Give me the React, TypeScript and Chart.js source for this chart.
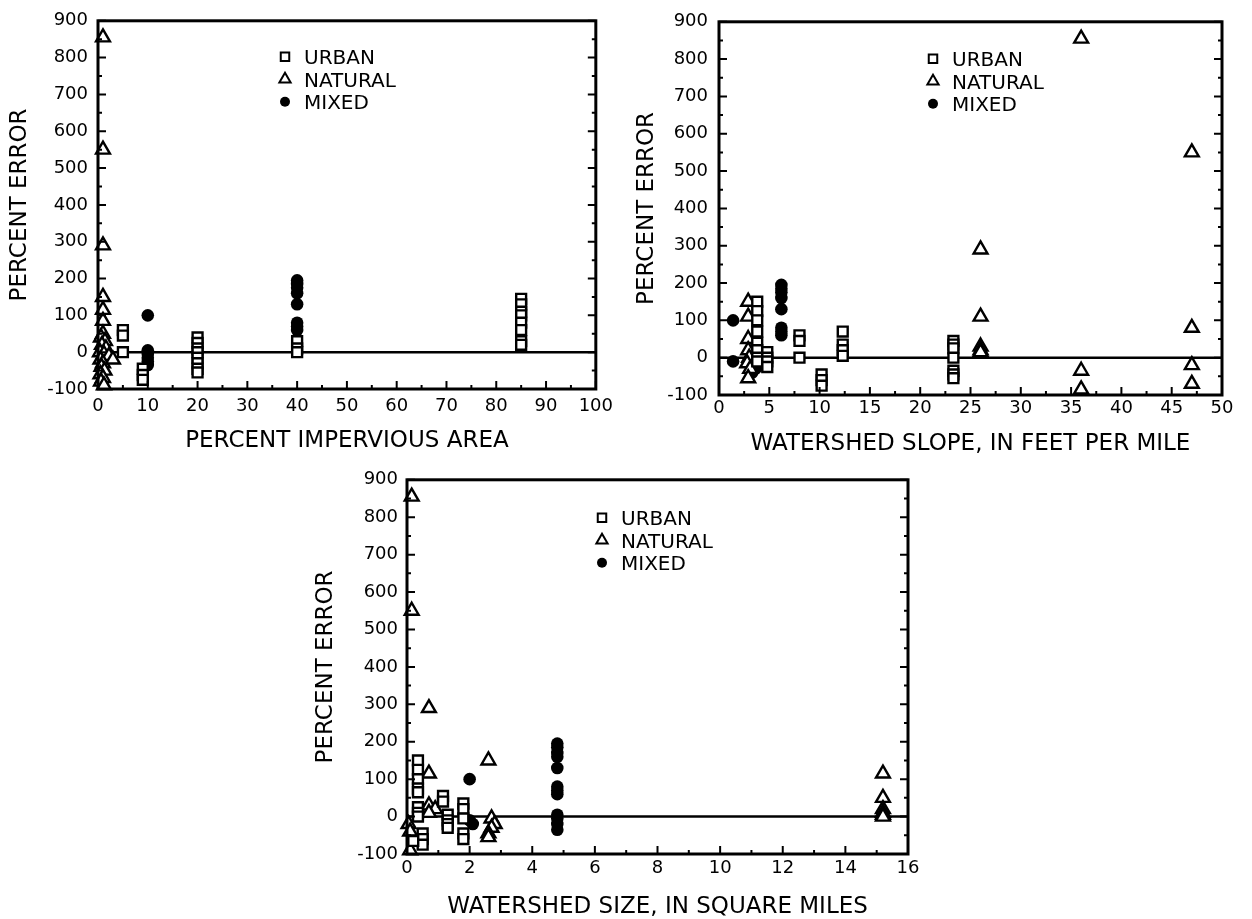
import React, { useEffect, useRef } from 'react';
import { Chart, registerables } from 'chart.js';

Chart.register(...registerables);

type Pt = [number, number];

const FONT = 'DejaVu Sans';
const SERIES_LABELS = ['URBAN', 'NATURAL', 'MIXED'];
const Y_TITLE = 'PERCENT ERROR';
const Y_RANGE = [-100, 900];

// Percent impervious area (x) vs percent error (y)
const imperviousUrban: Pt[] = [
  [5, 60], [5, 45], [5, 0],
  [9, -45], [9, -62], [9, -75],
  [20, 40], [20, 25], [20, 10], [20, 0], [20, -15], [20, -30], [20, -45], [20, -55],
  [40, 30], [40, 10], [40, 0],
  [85, 145], [85, 130], [85, 110], [85, 100], [85, 80], [85, 60], [85, 30], [85, 20],
];
const imperviousNatural: Pt[] = [
  [1, 855], [1, 550], [1, 290], [1, 150], [1, 115], [1, 85], [1, 50],
  [0.6, 40], [1.4, 30], [0.8, 20], [1.6, 10], [0.4, 0], [1.2, -5], [2.2, -10],
  [0.5, -20], [1, -30], [3, -20], [0.7, -40], [1.3, -50], [0.5, -60], [1, -70],
  [0.6, -80], [1.2, -90],
];
const imperviousMixed: Pt[] = [
  [10, 100], [10, 5], [10, -5], [10, -15], [10, -25], [10, -35],
  [40, 195], [40, 185], [40, 175], [40, 160], [40, 130], [40, 80], [40, 70], [40, 60],
];

// Watershed slope (x) vs percent error (y)
const slopeUrban: Pt[] = [
  [3.8, 150], [3.8, 125], [3.8, 100], [3.8, 70], [3.8, 40], [3.8, 20], [3.8, 0], [3.8, -10],
  [4.8, 15], [4.8, 0], [4.8, -10], [4.8, -25],
  [8, 60], [8, 45], [8, 0],
  [10.2, -45], [10.2, -60], [10.2, -75],
  [12.3, 70], [12.3, 35], [12.3, 20], [12.3, 5],
  [23.3, 45], [23.3, 35], [23.3, 25], [23.3, 0], [23.3, -35], [23.3, -45], [23.3, -55],
];
const slopeNatural: Pt[] = [
  [2.9, 150], [2.9, 110], [2.9, 50], [2.9, 20], [3, 0], [2.8, -15], [3.1, -30], [2.9, -55],
  [26, 290], [26, 110], [26, 30], [26, 20], [26, 15],
  [36, 855], [36, -35], [36, -85],
  [47, 550], [47, 80], [47, -20], [47, -70],
];
const slopeMixed: Pt[] = [
  [1.4, 100], [1.4, -10],
  [3.3, 0], [3.5, -10], [3.4, -20], [3.6, -30], [3.3, -40], [4, -15], [3.8, -25],
  [6.2, 195], [6.2, 185], [6.2, 175], [6.2, 160], [6.2, 130], [6.2, 80], [6.2, 70], [6.2, 60],
];

// Watershed size (x) vs percent error (y)
const sizeUrban: Pt[] = [
  [0.35, 150], [0.35, 125], [0.35, 100], [0.35, 75], [0.35, 65], [0.35, 25], [0.35, 10], [0.35, 0],
  [0.5, -45], [0.5, -60], [0.5, -75], [0.2, -65],
  [1.15, 55], [1.15, 40],
  [1.3, 5], [1.3, -10], [1.3, -20], [1.3, -30],
  [1.8, 35], [1.8, 20], [1.8, -5], [1.8, -45], [1.8, -60],
];
const sizeNatural: Pt[] = [
  [0.15, 855], [0.15, 550],
  [0.7, 290], [0.7, 115], [0.7, 30], [0.9, 20], [0.7, 10],
  [0.05, -20], [0.1, -40], [0.1, -90],
  [2.6, 150],
  [2.7, -5], [2.8, -20], [2.7, -30], [2.6, -45], [2.6, -55],
  [15.2, 115], [15.2, 50], [15.2, 20], [15.2, 10], [15.2, 5], [15.2, 0],
];
const sizeMixed: Pt[] = [
  [2, 100], [2, -10], [2.1, -20],
  [4.8, 195], [4.8, 185], [4.8, 170], [4.8, 160], [4.8, 130], [4.8, 80], [4.8, 70], [4.8, 60],
  [4.8, 5], [4.8, -5], [4.8, -20], [4.8, -35],
];

const toPoints = (arr: Pt[]) => arr.map(([x, y]) => ({ x, y }));

// Open/filled marker drawing shared by the inset legend
function drawMarker(ctx: CanvasRenderingContext2D, style: string, x: number, y: number, r: number) {
  ctx.beginPath();
  if (style === 'rect') {
    const s = r * Math.SQRT1_2;
    ctx.rect(x - s, y - s, 2 * s, 2 * s);
    ctx.fillStyle = '#fff';
    ctx.fill();
    ctx.stroke();
  } else if (style === 'triangle') {
    ctx.moveTo(x, y - r);
    ctx.lineTo(x + r * Math.sin(Math.PI / 3), y + r / 2);
    ctx.lineTo(x - r * Math.sin(Math.PI / 3), y + r / 2);
    ctx.closePath();
    ctx.fillStyle = '#fff';
    ctx.fill();
    ctx.stroke();
  } else {
    ctx.arc(x, y, r, 0, Math.PI * 2);
    ctx.fillStyle = '#000';
    ctx.fill();
  }
}

// Boxed frame with inward tick marks and a zero reference line
const framePlugin = {
  id: 'frame',
  beforeDatasetsDraw(chart: any) {
    const { ctx, chartArea: a, scales } = chart;
    const y0 = scales.y.getPixelForValue(0);
    ctx.save();
    ctx.strokeStyle = '#000';
    ctx.lineWidth = 2.5;
    ctx.beginPath();
    ctx.moveTo(a.left, y0);
    ctx.lineTo(a.right, y0);
    ctx.stroke();
    ctx.restore();
  },
  afterDraw(chart: any, _args: any, opts: any) {
    const { ctx, chartArea: a, scales } = chart;
    const { x, y } = scales;
    ctx.save();
    ctx.strokeStyle = '#000';
    ctx.lineWidth = 2;
    const yStep = opts.yStep;
    for (let v = y.min; v <= y.max + 1e-9; v += yStep / 2) {
      const major = Math.abs(v / yStep - Math.round(v / yStep)) < 1e-6;
      const len = major ? 8 : 4;
      const py = y.getPixelForValue(v);
      ctx.beginPath();
      ctx.moveTo(a.left, py);
      ctx.lineTo(a.left + len, py);
      ctx.moveTo(a.right, py);
      ctx.lineTo(a.right - len, py);
      ctx.stroke();
    }
    const xStep = opts.xStep;
    for (let v = x.min; v <= x.max + 1e-9; v += xStep / 2) {
      const major = Math.abs(v / xStep - Math.round(v / xStep)) < 1e-6;
      const len = major ? 8 : 4;
      const px = x.getPixelForValue(v);
      ctx.beginPath();
      ctx.moveTo(px, a.bottom);
      ctx.lineTo(px, a.bottom - len);
      ctx.stroke();
    }
    ctx.lineWidth = 3;
    ctx.strokeRect(a.left, a.top, a.right - a.left, a.bottom - a.top);
    ctx.restore();
  },
};

// Legend drawn inside the plotting area
const insetLegendPlugin = {
  id: 'insetLegend',
  afterDatasetsDraw(chart: any, _args: any, opts: any) {
    const { ctx, chartArea: a } = chart;
    const sizes: Record<string, number> = { rect: 6, triangle: 6.5, circle: 5 };
    ctx.save();
    ctx.strokeStyle = '#000';
    ctx.lineWidth = 2;
    chart.data.datasets.forEach((ds: any, i: number) => {
      const mx = a.left + opts.dx;
      const my = a.top + opts.dy + i * 22.5;
      drawMarker(ctx, ds.pointStyle, mx, my, sizes[ds.pointStyle]);
      ctx.fillStyle = '#000';
      ctx.font = `20px "${FONT}"`;
      ctx.textAlign = 'left';
      ctx.textBaseline = 'middle';
      ctx.fillText(ds.label, mx + 19, my + 2);
    });
    ctx.restore();
  },
};

interface PanelSpec {
  urban: Pt[];
  natural: Pt[];
  mixed: Pt[];
  xMax: number;
  xStep: number;
  xTitle: string;
  yWidth: number;
  xHeight: number;
  padTop: number;
  padRight: number;
  yTickPad: number;
  xTickPad: number;
  yTitlePad: number;
  xTitlePad: number;
  legendDx: number;
  legendDy: number;
}

function Panel({ spec, left, top, width, height }: { spec: PanelSpec; left: number; top: number; width: number; height: number }) {
  const ref = useRef<HTMLCanvasElement>(null);
  useEffect(() => {
    if (!ref.current) return;
    const tickFont = { family: FONT, size: 18 };
    const titleFont = { family: FONT, size: 23, lineHeight: 1 };
    const common = { borderColor: '#000', pointBorderWidth: 2.4, showLine: false, clip: false as any };
    const chart = new Chart(ref.current, {
      type: 'scatter',
      data: {
        datasets: [
          { ...common, label: SERIES_LABELS[0], data: toPoints(spec.urban), pointStyle: 'rect', pointRadius: 7, backgroundColor: '#fff' },
          { ...common, label: SERIES_LABELS[1], data: toPoints(spec.natural), pointStyle: 'triangle', pointRadius: 8, backgroundColor: '#fff' },
          { ...common, label: SERIES_LABELS[2], data: toPoints(spec.mixed), pointStyle: 'circle', pointRadius: 6.3, backgroundColor: '#000', pointBorderWidth: 0 },
        ] as any,
      },
      options: {
        animation: false,
        responsive: false,
        events: [],
        layout: { padding: { top: spec.padTop, right: spec.padRight, left: 0, bottom: 0 } },
        plugins: {
          legend: { display: false },
          tooltip: { enabled: false },
          frame: { xStep: spec.xStep, yStep: 100 },
          insetLegend: { dx: spec.legendDx, dy: spec.legendDy },
        } as any,
        scales: {
          x: {
            type: 'linear',
            min: 0,
            max: spec.xMax,
            grid: { display: false, drawTicks: false },
            border: { display: false },
            ticks: { stepSize: spec.xStep, color: '#000', font: tickFont, padding: spec.xTickPad, maxRotation: 0, autoSkip: false },
            title: { display: true, text: spec.xTitle, color: '#000', font: titleFont, padding: { top: 0, bottom: spec.xTitlePad } },
            afterFit: (s: any) => { s.height = spec.xHeight; },
          },
          y: {
            type: 'linear',
            min: Y_RANGE[0],
            max: Y_RANGE[1],
            grid: { display: false, drawTicks: false },
            border: { display: false },
            ticks: { stepSize: 100, color: '#000', font: tickFont, padding: spec.yTickPad, autoSkip: false },
            title: { display: true, text: Y_TITLE, color: '#000', font: titleFont, padding: { top: spec.yTitlePad, bottom: 0 } },
            afterFit: (s: any) => { s.width = spec.yWidth; },
          },
        },
      } as any,
      plugins: [framePlugin, insetLegendPlugin],
    });
    return () => chart.destroy();
  }, [spec]);
  return (
    <canvas
      ref={ref}
      width={width}
      height={height}
      style={{ position: 'absolute', left, top, width, height }}
    />
  );
}

const impervious: PanelSpec = {
  urban: imperviousUrban, natural: imperviousNatural, mixed: imperviousMixed,
  xMax: 100, xStep: 10, xTitle: 'PERCENT IMPERVIOUS AREA',
  yWidth: 98, xHeight: 71, padTop: 16, padRight: 22,
  yTickPad: 10, xTickPad: 7, yTitlePad: 9, xTitlePad: 7,
  legendDx: 187, legendDy: 36,
};
const slope: PanelSpec = {
  urban: slopeUrban, natural: slopeNatural, mixed: slopeMixed,
  xMax: 50, xStep: 5, xTitle: 'WATERSHED SLOPE, IN FEET PER MILE',
  yWidth: 89, xHeight: 65, padTop: 15, padRight: 30,
  yTickPad: 11, xTickPad: 3, yTitlePad: 6, xTitlePad: 4,
  legendDx: 214, legendDy: 37,
};
const size: PanelSpec = {
  urban: sizeUrban, natural: sizeNatural, mixed: sizeMixed,
  xMax: 16, xStep: 2, xTitle: 'WATERSHED SIZE, IN SQUARE MILES',
  yWidth: 107, xHeight: 65, padTop: 17, padRight: 32,
  yTickPad: 9, xTickPad: 4, yTitlePad: 15, xTitlePad: 0,
  legendDx: 195, legendDy: 38,
};

export default function App() {
  return (
    <div style={{ position: 'absolute', left: 0, top: 0, width: 1252, height: 919, background: '#fff' }}>
      <Panel spec={impervious} left={0} top={0} width={620} height={460} />
      <Panel spec={slope} left={630} top={0} width={622} height={460} />
      <Panel spec={size} left={300} top={460} width={640} height={459} />
    </div>
  );
}
